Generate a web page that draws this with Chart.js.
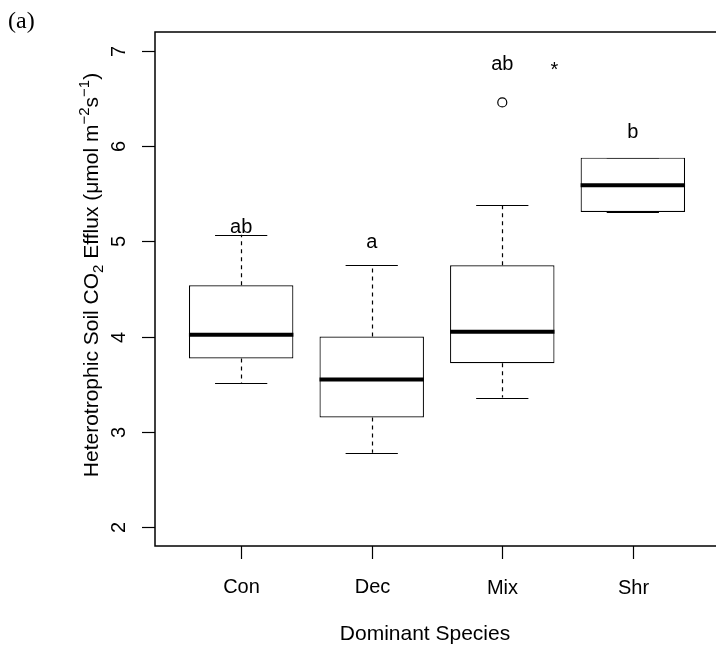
<!DOCTYPE html>
<html>
<head>
<meta charset="utf-8">
<script src="https://cdn.jsdelivr.net/npm/chart.js@4"></script>
<style>
  html, body { margin: 0; padding: 0; background: #fff; overflow: hidden; }
  #wrap { width: 730px; height: 652px; }
</style>
</head>
<body>
<div id="wrap"><canvas id="chart" width="730" height="652"></canvas></div>
<script>
// soil CO2 efflux by dominant species: five-number summaries per group
const categories = ['Con', 'Dec', 'Mix', 'Shr'];
const whiskerLow = [3.51, 2.78, 3.36, 5.31];
const quart1 = [3.77, 3.15, 3.72, 5.31];
const medians = [4.02, 3.55, 4.05, 5.59];
const quart3 = [4.54, 4.00, 4.75, 5.88];
const whiskerHigh = [5.07, 4.75, 5.38, 5.88];
const outlierGroup = [3];
const outlierValue = [6.46];

// significance letters and the heights they are written at
const groupLetters = ['ab', 'a', 'ab', 'b'];
const letterHeights = [5.17, 4.99, 6.88, 6.17];
const starAt = [3.40, 6.84];

const yTicks = [2, 3, 4, 5, 6, 7];

const FONT = '"Liberation Sans", Arial, Helvetica, sans-serif';

function textCentered(ctx, text, cx, cy) {
  const m = ctx.measureText(text);
  const asc = m.actualBoundingBoxAscent, desc = m.actualBoundingBoxDescent;
  ctx.textAlign = 'center';
  ctx.textBaseline = 'alphabetic';
  ctx.fillText(text, cx, cy + (asc - desc) / 2);
}

const boxParts = {
  id: 'boxParts',
  beforeDatasetsDraw(chart) {
    const { ctx, scales: { x, y } } = chart;
    ctx.save();
    ctx.strokeStyle = '#000';
    ctx.lineWidth = 1.2;
    categories.forEach((c, i) => {
      const px = Math.round(x.getPixelForValue(i + 1)) + 0.5;
      // dashed whiskers
      ctx.setLineDash([4, 4]);
      ctx.beginPath();
      ctx.moveTo(px, y.getPixelForValue(quart3[i]));
      ctx.lineTo(px, y.getPixelForValue(whiskerHigh[i]));
      ctx.moveTo(px, y.getPixelForValue(quart1[i]));
      ctx.lineTo(px, y.getPixelForValue(whiskerLow[i]));
      ctx.stroke();
      // staples
      ctx.setLineDash([]);
      ctx.beginPath();
      const l = x.getPixelForValue(i + 1 - 0.2), r = x.getPixelForValue(i + 1 + 0.2);
      [whiskerHigh[i], whiskerLow[i]].forEach(v => {
        const py = Math.round(y.getPixelForValue(v)) + 0.5;
        ctx.moveTo(l, py);
        ctx.lineTo(r, py);
      });
      ctx.stroke();
    });
    ctx.restore();
  },
  afterDatasetsDraw(chart) {
    const { ctx, scales: { x, y } } = chart;
    ctx.save();
    // medians
    ctx.strokeStyle = '#000';
    ctx.lineWidth = 4;
    categories.forEach((c, i) => {
      const py = y.getPixelForValue(medians[i]);
      ctx.beginPath();
      ctx.moveTo(x.getPixelForValue(i + 1 - 0.4), py);
      ctx.lineTo(x.getPixelForValue(i + 1 + 0.4), py);
      ctx.stroke();
    });
    // group letters
    ctx.fillStyle = '#000';
    ctx.font = '20px ' + FONT;
    groupLetters.forEach((t, i) => {
      textCentered(ctx, t, x.getPixelForValue(i + 1), y.getPixelForValue(letterHeights[i]));
    });
    textCentered(ctx, '*', x.getPixelForValue(starAt[0]), y.getPixelForValue(starAt[1]));
    ctx.restore();
  },
  afterDraw(chart) {
    const { ctx, chartArea: a, scales: { x, y } } = chart;
    ctx.save();
    ctx.strokeStyle = '#000';
    ctx.fillStyle = '#000';
    ctx.lineWidth = 1.5;
    ctx.strokeRect(a.left, a.top, a.right - a.left, a.bottom - a.top);

    // y axis ticks and labels
    ctx.lineWidth = 1.2;
    ctx.font = '20px ' + FONT;
    yTicks.forEach(v => {
      const py = Math.round(y.getPixelForValue(v)) + 0.5;
      ctx.beginPath();
      ctx.moveTo(a.left, py);
      ctx.lineTo(a.left - 13, py);
      ctx.stroke();
      ctx.save();
      ctx.translate(a.left - 37, py);
      ctx.rotate(-Math.PI / 2);
      textCentered(ctx, String(v), 0, 0);
      ctx.restore();
    });

    // x axis ticks and labels
    categories.forEach((c, i) => {
      const px = Math.round(x.getPixelForValue(i + 1)) + 0.5;
      ctx.beginPath();
      ctx.moveTo(px, a.bottom);
      ctx.lineTo(px, a.bottom + 13);
      ctx.stroke();
      textCentered(ctx, c, px, a.bottom + 40);
    });
    ctx.font = '21px ' + FONT;
    textCentered(ctx, 'Dominant Species', 425, 634);

    // y axis title with sub/superscripts
    const parts = [
      ['Heterotrophic Soil CO', 21, 0],
      ['2', 15, 5],
      [' Efflux (', 21, 0],
      ['\u03bc', 21, 0],
      ['mol m', 21, 0],
      ['\u22122', 15, -9],
      ['s', 21, 0],
      ['\u22121', 15, -9],
      [')', 21, 0]
    ];
    let total = 0;
    parts.forEach(p => { ctx.font = p[1] + 'px ' + FONT; total += ctx.measureText(p[0]).width; });
    ctx.save();
    ctx.translate(91, 275);
    ctx.rotate(-Math.PI / 2);
    ctx.textAlign = 'left';
    ctx.textBaseline = 'alphabetic';
    let cx = -total / 2;
    parts.forEach(p => {
      ctx.font = p[1] + 'px ' + FONT;
      ctx.fillText(p[0], cx, 7 + p[2]);
      cx += ctx.measureText(p[0]).width;
    });
    ctx.restore();

    // panel tag
    ctx.font = '24px "Liberation Serif", "Times New Roman", serif';
    ctx.textAlign = 'left';
    ctx.textBaseline = 'alphabetic';
    ctx.fillText('(a)', 8, 28);
    ctx.restore();
  }
};

new Chart(document.getElementById('chart'), {
  type: 'bar',
  data: {
    datasets: [{
      type: 'bar',
      data: categories.map((c, i) => ({ x: i + 1, y: [quart1[i], quart3[i]] })),
      backgroundColor: '#fff',
      borderColor: '#000',
      borderWidth: 1.2,
      borderSkipped: false,
      barPercentage: 0.8,
      categoryPercentage: 1,
      order: 1
    }, {
      type: 'scatter',
      data: outlierGroup.map((g, i) => ({ x: g, y: outlierValue[i] })),
      pointStyle: 'circle',
      pointRadius: 4.5,
      borderColor: '#000',
      backgroundColor: '#fff',
      borderWidth: 1.2,
      order: 0
    }]
  },
  options: {
    responsive: false,
    animation: false,
    devicePixelRatio: 1,
    layout: { padding: { left: 155, top: 32, right: 11, bottom: 106 } },
    plugins: { legend: { display: false }, tooltip: { enabled: false } },
    scales: {
      x: {
        type: 'linear', min: 0.34, max: 4.66, offset: false, display: false,
        ticks: { stepSize: 1, includeBounds: false }
      },
      y: { min: 1.8, max: 7.2, display: false }
    }
  },
  plugins: [boxParts]
});
</script>
</body>
</html>
